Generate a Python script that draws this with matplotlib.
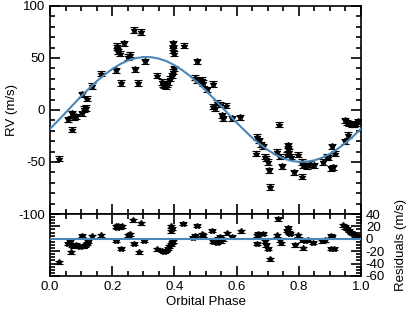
import matplotlib
matplotlib.use("Agg")
import matplotlib.pyplot as plt
from matplotlib.ticker import MultipleLocator

plt.rcParams['font.family'] = ['Liberation Sans', 'DejaVu Sans']
plt.rcParams['font.size'] = 9.5
plt.rcParams['axes.unicode_minus'] = False

# radial velocity data
phase = [0.029, 0.059, 0.070, 0.070, 0.078, 0.084, 0.102, 0.102, 0.109, 0.116,
         0.120, 0.136, 0.163, 0.211, 0.214, 0.217, 0.220, 0.224, 0.228, 0.239,
         0.252, 0.256, 0.271, 0.273, 0.284, 0.293, 0.305, 0.345, 0.359, 0.363,
         0.368, 0.372, 0.376, 0.380, 0.386, 0.392, 0.396, 0.398, 0.396, 0.397,
         0.395, 0.399, 0.432, 0.466, 0.472, 0.472, 0.490, 0.493, 0.504, 0.523,
         0.525, 0.530, 0.536, 0.546, 0.565, 0.552, 0.557, 0.584, 0.611, 0.662,
         0.665, 0.672, 0.678, 0.685, 0.690, 0.695, 0.700, 0.704, 0.707, 0.729,
         0.737, 0.740, 0.745, 0.764, 0.766, 0.768, 0.762, 0.775, 0.785, 0.797,
         0.810, 0.815, 0.820, 0.825, 0.811, 0.835, 0.850, 0.879, 0.890, 0.894,
         0.908, 0.916, 0.904, 0.910, 0.948, 0.959, 0.948, 0.955, 0.962, 0.970,
         0.978, 0.985, 0.990]
rv = [-47, -9, -19, -3, -7, -6, -3, 15, 1, 2,
      11, 23, 35, 38, 62, 60, 56, 54, 26, 64,
      51, 53, 77, 39, 26, 75, 47, 33, 27, 25,
      24, 23, 25, 27, 30, 33, 37, 40, 64, 60,
      57, 54, 62, 31, 47, 28, 29, 26, 20, 25,
      3, 2, 7, 5, 4, -5, -8, -8, -7, -42,
      -26, -29, -33, -35, -45, -47, -50, -58, -74, -40,
      -14, -45, -54, -34, -37, -40, -43, -45, -60, -43,
      -50, -53, -52, -54, -64, -52, -53, -50, -45, -46,
      -35, -42, -56, -55, -30, -24, -10, -12, -13, -14,
      -14, -13, -11]
rv_err = 2.5

# residuals
res_phase = [0.029, 0.058, 0.063, 0.068, 0.070, 0.077, 0.084, 0.095, 0.102, 0.106,
             0.113, 0.118, 0.122, 0.134, 0.164, 0.211, 0.212, 0.216, 0.220, 0.225,
             0.230, 0.228, 0.252, 0.257, 0.268, 0.271, 0.286, 0.293, 0.303, 0.343,
             0.360, 0.366, 0.372, 0.378, 0.383, 0.388, 0.393, 0.396, 0.390, 0.392,
             0.389, 0.429, 0.460, 0.466, 0.474, 0.488, 0.492, 0.520, 0.525, 0.530,
             0.536, 0.540, 0.546, 0.550, 0.556, 0.568, 0.584, 0.613, 0.665, 0.665,
             0.670, 0.685, 0.690, 0.695, 0.700, 0.707, 0.730, 0.734, 0.738, 0.743,
             0.762, 0.765, 0.768, 0.772, 0.788, 0.798, 0.810, 0.815, 0.820, 0.830,
             0.847, 0.874, 0.884, 0.904, 0.908, 0.904, 0.912, 0.943, 0.948, 0.955,
             0.962, 0.968, 0.975, 0.982, 0.990]
resid = [-38, -8, -5, -22, -11, -12, -10, -13, 5, -12,
         -11, -8, -5, 4, 6, -3, 20, 18, 21, 19,
         20, -16, 6, 7, 30, -8, -22, 25, -3, -17,
         -19, -21, -19, -16, -12, -9, -6, -4, 20, 16,
         12, 24, 2, 5, 21, 7, 6, 13, -5, -3,
         -6, 0, 3, -4, -1, 9, 3, 12, 6, -8,
         8, 8, -4, -10, -16, -33, 6, 32, -2, -7,
         13, 18, 10, 8, -10, 6, -2, -15, -3, -2,
         -6, -4, -2, 5, 3, -16, -16, 22, 19, 16,
         13, 10, 8, 6, 4]

# orbital fit
fit_phase = [0.0, 0.025, 0.05, 0.075, 0.1, 0.125, 0.15, 0.175, 0.2, 0.225,
             0.25, 0.275, 0.3, 0.325, 0.35, 0.375, 0.4, 0.425, 0.45, 0.475,
             0.5, 0.525, 0.55, 0.575, 0.6, 0.625, 0.65, 0.675, 0.7, 0.725,
             0.75, 0.775, 0.8, 0.825, 0.85, 0.875, 0.9, 0.925, 0.95, 0.975, 1.0]
fit_rv = [-18.1, -10.5, -2.7, 5.3, 13.1, 20.5, 27.6, 33.9, 39.4, 44.0,
          47.5, 49.8, 50.9, 50.8, 49.4, 46.9, 43.1, 38.4, 32.7, 26.2,
          19.1, 11.5, 3.7, -4.3, -12.1, -19.5, -26.6, -32.9, -38.4, -43.0,
          -46.5, -48.8, -49.9, -49.7, -48.4, -45.9, -42.1, -37.4, -31.7, -25.2, -18.1]

fit_color = '#4a86b8'

fig = plt.figure(figsize=(4.15, 3.12), dpi=100)
ax1 = fig.add_axes([0.1205, 0.3141, 0.7494, 0.6667])
ax2 = fig.add_axes([0.1205, 0.1154, 0.7494, 0.1987])

ax1.errorbar(phase, rv, yerr=rv_err, fmt='*', ms=4, color='k', ecolor='k',
             elinewidth=0.8, capsize=3, capthick=0.8, zorder=2)
ax1.plot(fit_phase, fit_rv, color=fit_color, lw=1.5, zorder=3)
ax1.set_xlim(0, 1)
ax1.set_ylim(-100, 100)
ax1.set_ylabel("RV (m/s)", labelpad=0)
ax1.xaxis.set_major_locator(MultipleLocator(0.2))
ax1.xaxis.set_minor_locator(MultipleLocator(0.05))
ax1.yaxis.set_major_locator(MultipleLocator(50))
ax1.yaxis.set_minor_locator(MultipleLocator(10))
ax1.tick_params(labelbottom=False)

ax2.errorbar(res_phase, resid, yerr=rv_err, fmt='*', ms=4, color='k', ecolor='k',
             elinewidth=0.8, capsize=3, capthick=0.8, zorder=2)
ax2.axhline(0, color=fit_color, lw=1.5, zorder=3)
ax2.set_xlim(0, 1)
ax2.set_ylim(-60, 40)
ax2.set_xlabel("Orbital Phase", labelpad=2)
ax2.xaxis.set_major_locator(MultipleLocator(0.2))
ax2.xaxis.set_minor_locator(MultipleLocator(0.05))
ax2.yaxis.set_major_locator(MultipleLocator(20))
ax2.yaxis.set_minor_locator(MultipleLocator(5))
ax2.yaxis.set_label_position('right')
ax2.set_ylabel("Residuals (m/s)", labelpad=7)
ax2.tick_params(axis='y', labelleft=False, labelright=True)

for ax in (ax1, ax2):
    ax.tick_params(which='both', direction='in', top=True, right=True, width=1.2)
    ax.tick_params(which='major', length=7, pad=3.5)
    ax.tick_params(which='minor', length=3.5)
    for s in ax.spines.values():
        s.set_linewidth(1.2)

fig.savefig("out.png", dpi=100)
